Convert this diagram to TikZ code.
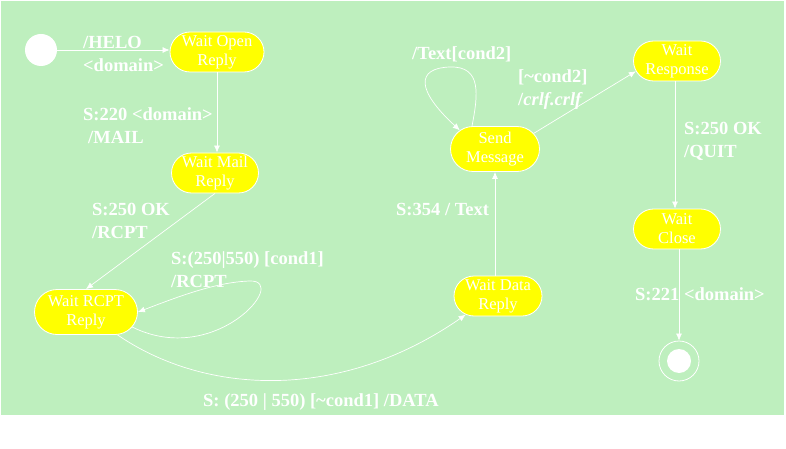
\documentclass[tikz,border=0pt]{standalone}
\usepackage{fontspec}
\setmainfont{Liberation Serif}
\usetikzlibrary{arrows.meta,shapes.misc}
\definecolor{bggreen}{RGB}{190,239,190}
\definecolor{stateyellow}{RGB}{255,255,0}
\begin{document}
\begin{tikzpicture}[x=1pt,y=-1pt,
  state/.style={rounded rectangle, draw=white, line width=0.8pt, fill=stateyellow,
    text=white, align=center, inner sep=0pt,
    font=\fontsize{16.5}{19}\selectfont},
  lbl/.style={text=white, align=left, anchor=west, inner sep=0pt,
    font=\bfseries\fontsize{18.5}{22.5}\selectfont},
  conn/.style={draw=white, line width=0.7pt, -{Latex[length=7pt,width=6pt]}}]
\useasboundingbox (0,0) rectangle (786,449);
\fill[bggreen] (1,1) rectangle (784,415);

% states
\node[circle, fill=white, minimum size=32pt, inner sep=0pt] (init) at (41,50) {};
\node[state, minimum width=94pt, minimum height=40pt] (wor) at (217,52) {Wait Open\\Reply};
\node[state, minimum width=87pt, minimum height=40pt] (wmr) at (215,173) {Wait Mail\\Reply};
\node[state, minimum width=103pt, minimum height=45pt] (rcpt) at (86,312) {Wait RCPT\\Reply};
\node[state, minimum width=88pt, minimum height=40pt] (wdr) at (498,296) {Wait Data\\Reply};
\node[state, minimum width=89pt, minimum height=45pt] (sm) at (495,149) {Send\\Message};
\node[state, minimum width=87pt, minimum height=40pt] (wr) at (677,61) {Wait\\Response};
\node[state, minimum width=87pt, minimum height=40pt] (wc) at (677,229) {Wait\\Close};
\node[circle, draw=white, line width=0.8pt, minimum size=40pt, inner sep=0pt] (final) at (679,361) {};
\node[circle, fill=white, minimum size=24pt, inner sep=0pt] (finaldot) at (final.center) {};

% connectors
\draw[conn] (init.east) -- (init.east -| wor.west);
\draw[conn] (wor.south) -- (wor.south |- wmr.north);
\draw[conn] (wmr.south) -- (rcpt.north);
\draw[conn] (rcpt.-18) .. controls (215,368) and (290,280) .. (250,281)
  .. controls (215,282) and (175,298) .. (rcpt.east);
\draw[conn] (rcpt.-36) .. controls (205,395) and (340,402) .. (wdr.-150);
\draw[conn] (sm.south |- wdr.north) -- (sm.south);
\draw[conn] ([xshift=-23pt]sm.north) .. controls (478,95) and (482,66) .. (450,67)
  .. controls (416,68) and (416,90) .. (sm.152);
\draw[conn] (sm.22) -- (wr.-166);
\draw[conn] ([xshift=-2pt]wr.south) -- ([xshift=-2pt]wr.south |- wc.north);
\draw[conn] (final.north |- wc.south) -- (final.north);

% labels
\node[lbl] (l1) at (83,54) {/HELO\\\textless domain\textgreater};
\node[lbl] (l2) at (83,125.5) {S:220 \textless domain\textgreater\\\hspace*{5pt}/MAIL};
\node[lbl] (l3) at (92,221) {S:250 OK\\/RCPT};
\node[lbl] (l4) at (171,269.5) {S:(250\textbar 550) [cond1]\\/RCPT};
\node[lbl] (l5) at (203,402) {S: (250 \textbar\ 550) [\textasciitilde cond1] /DATA};
\node[lbl] (l6) at (396,210) {S:354 / Text};
\node[lbl] (l7) at (412,54) {/Text[cond2]};
\node[lbl] (l8) at (518,89.5) {[\textasciitilde cond2]\\/\textit{crlf.crlf}};
\node[lbl] (l9) at (684,141.5) {S:250 OK\\/QUIT};
\node[lbl] (l10) at (635,294) {S:221 \textless domain\textgreater};
\end{tikzpicture}
\end{document}
